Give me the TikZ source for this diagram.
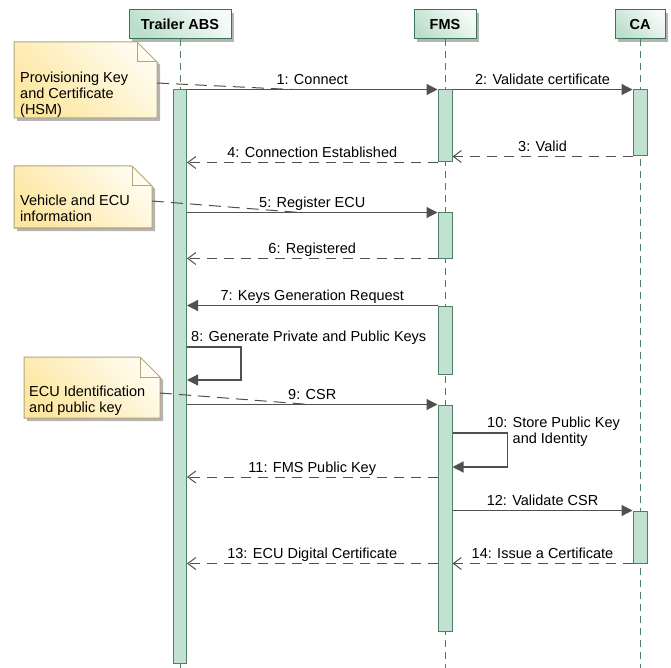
\documentclass[tikz,border=0pt]{standalone}
\usepackage{fontspec}
\setmainfont{Liberation Sans}
\usetikzlibrary{arrows.meta,shadows}
\definecolor{linec}{HTML}{505050}
\definecolor{barfill}{HTML}{C2E2D1}
\definecolor{bardraw}{HTML}{4F7F66}
\definecolor{headL}{HTML}{BCDFCC}
\definecolor{headR}{HTML}{F4FAF7}
\definecolor{headdraw}{HTML}{3B7458}
\definecolor{noteL}{HTML}{FDE6A0}
\definecolor{noteR}{HTML}{FFFCEE}
\definecolor{notedraw}{HTML}{B4A47C}
\definecolor{shadowc}{HTML}{B4B4B4}
\tikzset{
    head/.style={draw=headdraw, line width=1pt, bottom color=headL, top color=headR, shading angle=-45,
        minimum height=29pt, inner sep=0pt, font=\fontsize{14.5}{16}\selectfont\bfseries,
        drop shadow={shadow xshift=3pt, shadow yshift=-3pt, fill=shadowc, opacity=1}},
    lifeline/.style={draw=bardraw, line width=1pt, dash pattern=on 7pt off 5pt},
    actbar/.style={draw=bardraw, fill=barfill, line width=1pt, minimum width=13pt, inner sep=0pt},
    msg/.style={draw=linec, line width=1.2pt, ->},
    ret/.style={draw=linec, line width=1pt, dash pattern=on 10pt off 7pt,
        -{Straight Barb[length=8pt,width=12pt]}},
    lbl/.style={above, inner sep=1.5pt, text height=10pt, text depth=3pt},
    txtleft/.style={align=left, inner sep=0pt, anchor=north west},
    noteline/.style={draw=linec, line width=1pt, dash pattern=on 12pt off 7pt},
}
\begin{document}
\begin{tikzpicture}[x=1pt, y=-1pt, >={Triangle[length=11pt,width=11pt]},
    font=\fontsize{14.5}{16}\selectfont]
    \useasboundingbox (0,0) rectangle (671,668);

    % lifelines
    \node[head, minimum width=102pt] (abs) at (180,24.5) {Trailer ABS};
    \node[head, minimum width=62pt] (fms) at (445,24.5) {FMS};
    \node[head, minimum width=50pt] (ca) at (640,24.5) {CA};
    \foreach \p in {abs,fms,ca}
    {
        \draw[lifeline] (\p.south) -- (\p.south |- 0,668);
    }

    % activation bars
    \node[actbar, minimum height=573pt] (absA) at (180,376.5) {};
    \foreach \n/\c/\h in {fms1/126/72, fms2/235.5/45, fms3/340/68, fms4/518/226}
    {
        \node[actbar, minimum width=14pt, minimum height=\h pt] (\n) at (445,\c) {};
    }
    \foreach \n/\c/\h in {ca1/123/66, ca2/537/52}
    {
        \node[actbar, minimum width=14pt, minimum height=\h pt] (\n) at (640,\c) {};
    }

    % messages
    \draw[msg] (absA.north east) -- coordinate[pos=.42] (c1) node[lbl, midway] {1: Connect} (fms1.north west);
    \draw[msg] (fms1.north east) -- node[lbl, midway] {2: Validate certificate} (ca1.north west);
    \draw[ret] (ca1.south west) -- node[lbl, midway] {3: Valid} (ca1.south west -| fms1.east);
    \draw[ret] (fms1.south west) -- node[lbl, midway] {4: Connection Established} (fms1.south west -| absA.east);
    \draw[msg] (absA.east |- fms2.north) -- coordinate[pos=.45] (c5) node[lbl, midway] {5: Register ECU} (fms2.north west);
    \draw[ret] (fms2.south west) -- node[lbl, midway] {6: Registered} (fms2.south west -| absA.east);
    \draw[msg] (fms3.north west) -- node[lbl, midway] {7: Keys Generation Request} (fms3.north west -| absA.east);
    \draw[msg] (absA.east |- 0,347) -- ++(54,0) -- ++(0,33) -- (absA.east |- 0,380);
    \node[anchor=base west, inner sep=0pt] (l8) at (191,341) {8: Generate Private and Public Keys};
    \draw[msg] (absA.east |- fms4.north) -- coordinate[pos=.49] (c9) node[lbl, midway] {9: CSR} (fms4.north west);
    \draw[msg] (fms4.east |- 0,433) -- ++(55,0) -- ++(0,34) -- (fms4.east |- 0,467);
    \node[txtleft] (l10) at (487,417) {10: Store Public Key\\\phantom{10: }and Identity};
    \draw[ret] (fms4.west |- 0,477) -- node[lbl, midway] {11: FMS Public Key} (absA.east |- 0,477);
    \draw[msg] (fms4.east |- ca2.north) -- node[lbl, midway] {12: Validate CSR} (ca2.north west);
    \draw[ret] (fms4.west |- ca2.south) -- node[lbl, midway] {13: ECU Digital Certificate} (absA.east |- ca2.south);
    \draw[ret] (ca2.south west) -- node[lbl, midway] {14: Issue a Certificate} (fms4.east |- ca2.south);

    % notes
    \foreach \l/\t/\r/\b in {14/42/157/118, 14/166/152/228, 24/357/160/418}
    {
        \fill[shadowc] (\l+3,\t+3) -- (\r-17,\t+3) -- (\r+3,\t+23) -- (\r+3,\b+3) -- (\l+3,\b+3) -- cycle;
        \draw[notedraw, line width=1pt, bottom color=noteL, top color=noteR, shading angle=-45]
            (\l,\t) -- (\r-20,\t) -- (\r,\t+20) -- (\r,\b) -- (\l,\b) -- cycle;
        \draw[notedraw, line width=1pt] (\r-20,\t) -- (\r-20,\t+20) -- (\r,\t+20);
    }
    \node[txtleft] (note1) at (20,72) {Provisioning Key\\and Certificate\\(HSM)};
    \node[txtleft] (note2) at (20,195) {Vehicle and ECU\\information};
    \node[txtleft] (note3) at (29,386) {ECU Identification\\and public key};
    \coordinate (note1-e) at (157,83);
    \coordinate (note2-e) at (152,201);
    \coordinate (note3-e) at (160,393);
    \draw[noteline] (note1-e) -- (c1);
    \draw[noteline] (note2-e) -- (c5);
    \draw[noteline] (note3-e) -- (c9);
\end{tikzpicture}
\end{document}
